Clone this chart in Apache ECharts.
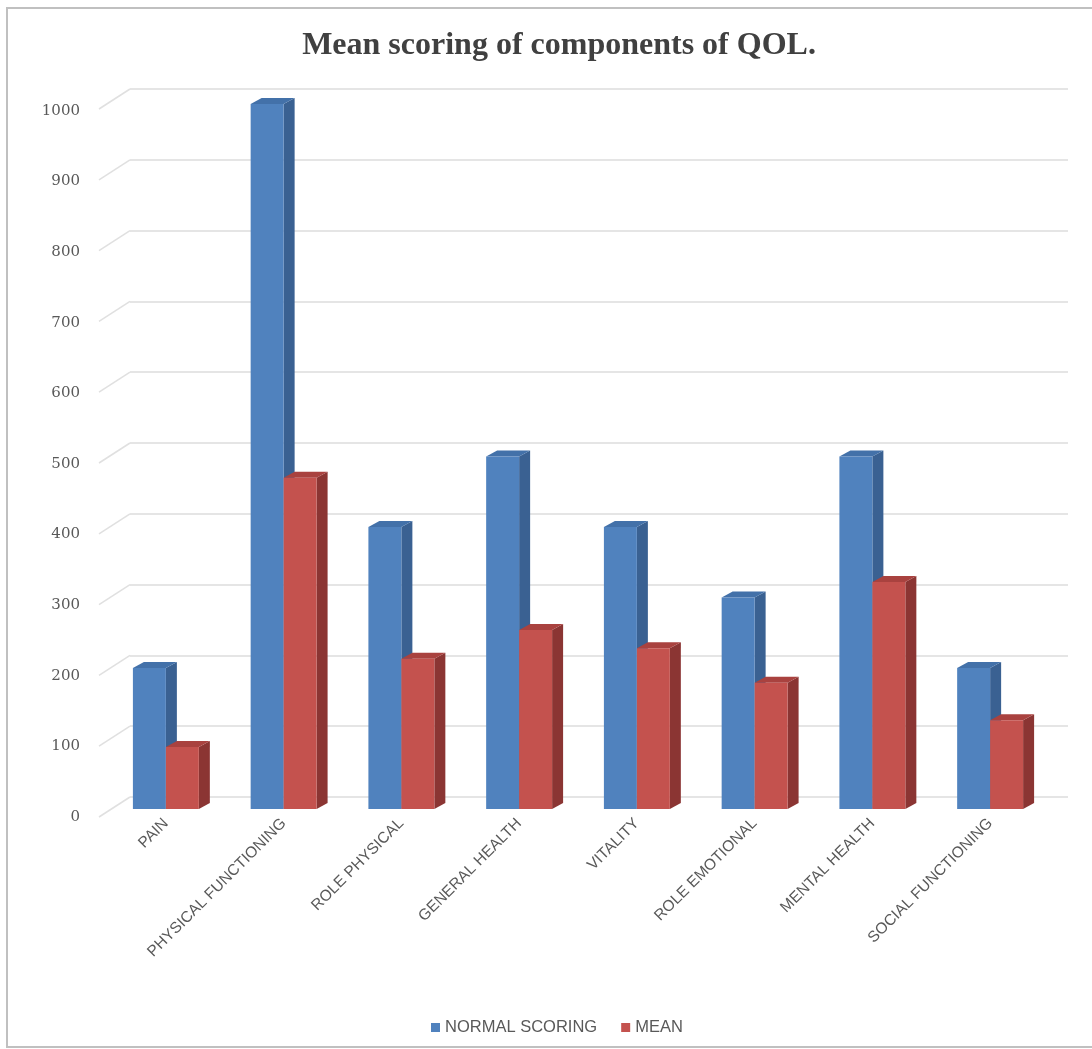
<!DOCTYPE html>
<html>
<head>
	<meta charset="utf-8">
	<title>Mean scoring of components of QOL.</title>
	<style type="text/css">
		html, body {
			margin: 0;
			padding: 0;
			background: #fff;
		}
		#chart {
			width: 1092px;
			height: 1049px;
		}
	</style>
</head>
<body>
	<div id="chart"></div>

	<script src="https://cdn.jsdelivr.net/npm/echarts@6/dist/echarts.min.js"></script>
	<script type="text/javascript">
	const CATEGORIES = ['PAIN', 'PHYSICAL FUNCTIONING', 'ROLE PHYSICAL', 'GENERAL HEALTH',
		'VITALITY', 'ROLE EMOTIONAL', 'MENTAL HEALTH', 'SOCIAL FUNCTIONING'];
	const NORMAL_SCORING = [200, 1000, 400, 500, 400, 300, 500, 200];
	const MEAN = [88, 470, 213, 254, 228, 179, 322, 126];
	const Y_TICKS = [0, 100, 200, 300, 400, 500, 600, 700, 800, 900, 1000];

	const TXT = {
		TITLE: 'Mean scoring of components of QOL.',
		NORMAL: 'NORMAL SCORING',
		MEAN: 'MEAN'
	};

	// face colours: front, side, top
	const BLUE = ['#5082be', '#3a6192', '#4371a9'];
	const RED = ['#c4524e', '#8b3533', '#a9423f'];
	const DEPTH_X = 11, DEPTH_Y = -6;

	function bar3d(slot, colors) {
		return function (params, api) {
			const idx = api.value(0);
			const top = api.coord([idx, api.value(1)]);
			const base = api.coord([idx, 0]);
			const band = api.size([1, 0])[0];
			const w = band * 0.28;
			const left = top[0] - w + slot * w;
			const right = left + w;
			const y1 = top[1], y0 = base[1];
			return {
				type: 'group',
				children: [
					{
						type: 'polygon',
						shape: { points: [[right, y1], [right + DEPTH_X, y1 + DEPTH_Y], [right + DEPTH_X, y0 + DEPTH_Y], [right, y0]] },
						style: { fill: colors[1] }
					},
					{
						type: 'polygon',
						shape: { points: [[left, y1], [left + DEPTH_X, y1 + DEPTH_Y], [right + DEPTH_X, y1 + DEPTH_Y], [right, y1]] },
						style: { fill: colors[2] }
					},
					{
						type: 'rect',
						shape: { x: left, y: y1, width: w, height: y0 - y1 },
						style: { fill: colors[0] }
					}
				]
			};
		};
	}

	// slanted lines of the left wall
	function sideWall(params, api) {
		const p = api.coord([0, api.value(0)]);
		const x0 = params.coordSys.x;
		return {
			type: 'line',
			shape: { x1: x0 - 31, y1: p[1] + 20, x2: x0, y2: p[1] },
			style: { stroke: '#e0e0e0', lineWidth: 1.5 }
		};
	}

	const chart = echarts.init(document.getElementById('chart'));

	const option = {
		backgroundColor: '#ffffff',
		animation: false,
		title: {
			text: TXT.TITLE,
			left: 554,
			textAlign: 'center',
			top: 25,
			textStyle: {
				fontFamily: 'Liberation Serif',
				fontWeight: 'bold',
				fontSize: 32,
				color: '#404040'
			}
		},
		graphic: [{
			type: 'rect',
			shape: { x: 7, y: 8, width: 1100, height: 1039 },
			style: { fill: 'none', stroke: '#c0c0c0', lineWidth: 2 },
			z: -10
		}],
		legend: {
			data: [TXT.NORMAL, TXT.MEAN],
			left: 426,
			top: 1014,
			icon: 'rect',
			itemWidth: 9,
			itemHeight: 9,
			itemGap: 24,
			textStyle: {
				fontFamily: 'Liberation Sans',
				fontSize: 16.5,
				color: '#595959'
			}
		},
		grid: [
			// back wall
			{ left: 130, right: 24, top: 89, height: 708 },
			// front plane for bars
			{ left: 107, right: 43, top: 104, height: 705 },
			// value labels
			{ left: 107, right: 43, top: 111, height: 706 }
		],
		xAxis: [
			{ gridIndex: 0, type: 'value', show: false },
			{
				gridIndex: 1,
				type: 'category',
				data: CATEGORIES,
				axisLine: { show: false },
				axisTick: { show: false },
				axisLabel: {
					rotate: 45,
					interval: 0,
					margin: 12,
					fontFamily: 'Liberation Sans',
					fontSize: 15.5,
					color: '#595959'
				}
			},
			{ gridIndex: 2, type: 'value', show: false }
		],
		yAxis: [
			{
				gridIndex: 0,
				type: 'value',
				min: 0, max: 1000, interval: 100,
				axisLabel: { show: false },
				axisLine: { show: false },
				axisTick: { show: false },
				splitLine: { lineStyle: { color: '#dcdcdc', width: 1.5 } }
			},
			{
				gridIndex: 1,
				type: 'value',
				min: 0, max: 1000, interval: 100,
				show: false
			},
			{
				gridIndex: 2,
				type: 'value',
				min: 0, max: 1000, interval: 100,
				axisLine: { show: false },
				axisTick: { show: false },
				splitLine: { show: false },
				axisLabel: {
					margin: 27,
					formatter: v => String(v),
					fontFamily: 'DejaVu Serif',
					fontSize: 15,
					color: '#595959'
				}
			}
		],
		series: [
			{
				type: 'custom',
				name: 'wall',
				xAxisIndex: 0,
				yAxisIndex: 0,
				renderItem: sideWall,
				data: Y_TICKS.map(v => [v]),
				encode: { y: 0 },
				silent: true,
				clip: false,
				z: 1
			},
			{
				type: 'custom',
				name: TXT.NORMAL,
				xAxisIndex: 1,
				yAxisIndex: 1,
				renderItem: bar3d(0, BLUE),
				itemStyle: { color: BLUE[0] },
				data: NORMAL_SCORING.map((v, i) => [i, v]),
				encode: { x: 0, y: 1 },
				clip: false,
				z: 3
			},
			{
				type: 'custom',
				name: TXT.MEAN,
				xAxisIndex: 1,
				yAxisIndex: 1,
				renderItem: bar3d(1, RED),
				itemStyle: { color: RED[0] },
				data: MEAN.map((v, i) => [i, v]),
				encode: { x: 0, y: 1 },
				clip: false,
				z: 4
			}
		]
	};

	chart.setOption(option);
	</script>
</body>
</html>
